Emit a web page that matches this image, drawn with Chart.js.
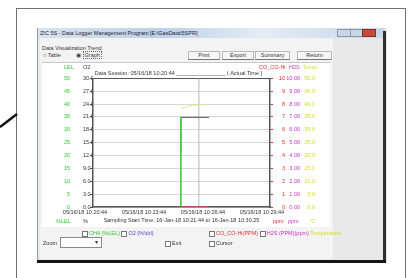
<!DOCTYPE html>
<html>
<head>
<meta charset="utf-8">
<script src="https://cdn.jsdelivr.net/npm/chart.js@4.4.0/dist/chart.umd.min.js"></script>
<style>
body { margin:0; width:411px; height:278px; overflow:hidden; background:#fff; position:relative;
  font-family:"Liberation Sans", Arial, sans-serif; font-size:5.5px; color:#333; }
.a { position:absolute; white-space:nowrap; }
.btn { height:7px; background:#f6f6f6; border:1px solid #b8b8b8; border-bottom-color:#777; text-align:center; line-height:7px; }
.cb { display:inline-block; width:4px; height:4px; border:1px solid #777; background:#fff; vertical-align:middle; margin-right:1px; }
</style>
</head>
<body>
<div class="a" style="left:16px;top:8px;width:388px;height:290px;border:1px solid #707070;"></div>
<svg class="a" style="left:0;top:0" width="20" height="140"><line x1="0" y1="127" x2="17" y2="114" stroke="#111" stroke-width="2.5"/></svg>

<!-- window -->
<div class="a" style="left:37px;top:28px;width:349px;height:235px;background:#e8e8e8;border-left:1px solid #8e9aa6;"></div>
<div class="a" style="left:38px;top:28px;width:347px;height:10px;background:linear-gradient(to right,#d9e4f0,#bcd0e6 35%,#e4ecf5 65%,#c6d6e8);"></div>
<div class="a" style="left:40px;top:30px;color:#223;">ZIC 5S - Data Logger Management Program [E:\GasData\5SPR]</div>
<div class="a" style="left:337px;top:29px;width:12px;height:6px;background:#c9d6e4;border:1px solid #8898aa;"></div>
<div class="a" style="left:350px;top:29px;width:11px;height:6px;background:#c9d6e4;border:1px solid #8898aa;"></div>
<div class="a" style="left:362px;top:29px;width:12px;height:6px;background:#c84a3a;border:1px solid #8a2a20;"></div>
<div class="a" style="left:40px;top:38px;width:293px;height:221px;background:#f3f3f3;"></div>
<div class="a" style="left:383px;top:31px;width:3px;height:232px;background:#2e2e2e;"></div>
<div class="a" style="left:37px;top:260px;width:349px;height:3px;background:#151515;"></div>

<div class="a" style="left:42px;top:45px;">Data Visualization Trend</div>
<div class="a" style="left:43px;top:52px;">○ Table</div>
<div class="a" style="left:76px;top:52px;">◉ <span style="border:1px dotted #666;padding:0 1px;">Graph</span></div>
<div class="a btn" style="left:188px;top:51px;width:30px;">Print</div>
<div class="a btn" style="left:222px;top:51px;width:30px;">Export</div>
<div class="a btn" style="left:255px;top:51px;width:33px;">Summary</div>
<div class="a btn" style="left:297px;top:51px;width:33px;">Return</div>

<!-- chart panel -->
<div class="a" style="left:42px;top:62px;width:288px;height:164px;background:#fff;border-top:1px solid #c8c8c8;"></div>
<canvas id="grafico" class="a" style="left:42px;top:62px;" width="288" height="162"></canvas>

<div class="a" style="left:64px;top:64px;color:#3c3;">LEL</div>
<div class="a" style="left:83px;top:64px;color:#334;">O2</div>
<div class="a" style="left:259px;top:64px;color:#e23030;">CO_CO-Hi</div>
<div class="a" style="left:289px;top:64px;color:#c535c5;">H2S</div>
<div class="a" style="left:303px;top:64px;color:#d8d820;">Temp</div>

<div class="a" style="left:56px;top:218px;color:#3c3;">%LEL</div>
<div class="a" style="left:83px;top:218px;color:#334;">%</div>
<div class="a" style="left:273px;top:218px;color:#e23030;">ppm</div>
<div class="a" style="left:288px;top:218px;color:#c535c5;">ppm</div>
<div class="a" style="left:309px;top:218px;color:#d8d820;">°C</div>

<!-- legend / controls -->
<div class="a" style="left:82px;top:230px;"><span class="cb"></span><span style="color:#3c3;">CH4 (%LEL)</span> <span class="cb"></span><span style="color:#4848c8;">O2 (%Vol)</span></div>
<div class="a" style="left:209px;top:230px;"><span class="cb"></span><span style="color:#e23030;">CO_CO-Hi(PPM)</span> <span class="cb"></span><span style="color:#c535c5;">H2S (PPM)(ppm)</span> <span style="color:#d8d820;">Temperature</span></div>
<div class="a" style="left:43px;top:240px;">Zoom</div>
<div class="a" style="left:60px;top:237px;width:40px;height:9px;background:#fff;border:1px solid #888;"></div>
<div class="a" style="left:95px;top:239px;">▾</div>
<div class="a" style="left:165px;top:240px;"><span class="cb"></span>Exit</div>
<div class="a" style="left:209px;top:240px;"><span class="cb"></span>Cursor</div>

<script>
// dados do gráfico
var rotulosTempo = ['05/16/18 10:20:44', '05/16/18 10:23:44', '05/16/18 10:26:44', '05/16/18 10:29:44'];
var segundosTicks = [0, 180, 360, 540];

var ticksLEL = [0, 5, 10, 15, 20, 25, 30, 35, 40, 45, 50];
var ticksO2 = [0, 3, 6, 9, 12, 15, 18, 21, 24, 27, 30];
var ticksCO = [0, 1, 2, 3, 4, 5, 6, 7, 8, 9, 10];
var ticksH2S = [0, 1, 2, 3, 4, 5, 6, 7, 8, 9, 10];
var ticksTemp = [0, 5, 10, 15, 20, 25, 30, 35, 40, 45, 50];

var ch4X = [268, 268, 354];
var ch4Y = [35, 0, 0];
var o2X = [268, 268, 354];
var o2Y = [12.5, 20.9, 20.9];
var coX = [268, 354];
var coY = [0, 0];
var h2sX = [268, 354];
var h2sY = [0, 0];
var tempX = [268, 285, 305, 342];
var tempY = [38.2, 39.0, 39.6, 39.7];
var cursorSeg = 323;

var tituloGrafico = 'Data Session: 05/16/18 10:20:44 ________________ ( Actual Time )';
var tituloEixoX = 'Sampling Start Time: 16-Jan-18 10:21:44 to 16-Jan-18 10:30:25';

document.addEventListener('DOMContentLoaded', function () {
    Chart.defaults.font.family = '"Liberation Sans", Arial, sans-serif';
    Chart.defaults.font.size = 5.5;

    function pontos(xs, ys) {
        return xs.map(function (x, i) { return { x: x, y: ys[i] }; });
    }
    function fixarTicks(lista) {
        return function (s) { s.ticks = lista.map(function (v) { return { value: v }; }); };
    }
    function largura(w) {
        return function (s) { s.width = w; };
    }

    var ctx = document.getElementById('grafico').getContext('2d');
    new Chart(ctx, {
        type: 'line',
        data: {
            datasets: [
                { label: 'Cursor', data: [{ x: cursorSeg, y: 0 }, { x: cursorSeg, y: 30 }], yAxisID: 'o2', borderColor: '#b8b8b8', borderWidth: 1, pointRadius: 0, order: 10 },
                { label: 'CO_CO-Hi(PPM)', data: pontos(coX, coY), yAxisID: 'co', borderColor: '#e23030', borderWidth: 1, pointRadius: 0 },
                { label: 'H2S (PPM)', data: pontos(h2sX, h2sY), yAxisID: 'h2s', borderColor: '#c535c5', borderWidth: 1, pointRadius: 0 },
                { label: 'Temperature', data: pontos(tempX, tempY), yAxisID: 'temp', borderColor: '#e4e48a', borderWidth: 1, pointRadius: 0 },
                { label: 'CH4 (%LEL)', data: pontos(ch4X, ch4Y), yAxisID: 'lel', borderColor: '#44d044', borderWidth: 1, pointRadius: 0 },
                { label: 'O2 (%Vol)', data: pontos(o2X, o2Y), yAxisID: 'o2', borderColor: '#4a5068', borderWidth: 1, pointRadius: 0 }
            ]
        },
        options: {
            responsive: false,
            animation: false,
            layout: { padding: { left: 0, right: 15, top: 0, bottom: 0 } },
            plugins: {
                legend: { display: false },
                tooltip: { enabled: false },
                title: { display: true, text: tituloGrafico, color: '#333', padding: { top: 2, bottom: 1.5 }, font: { size: 5.5, weight: 'normal' } }
            },
            scales: {
                x: {
                    type: 'linear', min: 0, max: 540,
                    grid: { display: false, drawTicks: false },
                    border: { display: true, color: '#555', width: 1.5 },
                    afterBuildTicks: fixarTicks(segundosTicks),
                    afterFit: function (s) { s.height = 17; },
                    ticks: {
                        autoSkip: false, maxRotation: 0, padding: 2, labelOffset: -8, color: '#333',
                        callback: function (v) { return rotulosTempo[segundosTicks.indexOf(v)]; }
                    },
                    title: { display: true, text: tituloEixoX, color: '#333', padding: { top: 2, bottom: 0 }, font: { size: 5.5 } }
                },
                o2: {
                    position: 'left', weight: 0, min: 0, max: 30,
                    afterBuildTicks: fixarTicks(ticksO2),
                    afterFit: largura(10),
                    grid: {
                        color: function (c) { return c.tick && c.tick.value === 30 ? '#555' : '#d6d6d6'; },
                        tickColor: '#444', tickLength: 3
                    },
                    border: { display: true, color: '#555', width: 1.5 },
                    ticks: { crossAlign: 'far', padding: 0, color: '#334', callback: function (v) { return v.toFixed(1); } }
                },
                lel: {
                    position: 'left', weight: 1, min: 0, max: 50,
                    afterBuildTicks: fixarTicks(ticksLEL),
                    afterFit: largura(41),
                    grid: { display: false, drawTicks: false },
                    border: { display: false },
                    ticks: { crossAlign: 'near', padding: 13, color: '#3c3' }
                },
                co: {
                    position: 'right', weight: 0, min: 0, max: 10,
                    afterBuildTicks: fixarTicks(ticksCO),
                    afterFit: largura(15),
                    grid: { drawOnChartArea: false, tickColor: '#e23030', tickLength: 3 },
                    border: { display: true, color: '#555', width: 1.5 },
                    ticks: { crossAlign: 'far', padding: 0, color: '#e23030' }
                },
                h2s: {
                    position: 'right', weight: 1, min: 0, max: 10,
                    afterBuildTicks: fixarTicks(ticksH2S),
                    afterFit: largura(15),
                    grid: { display: false, drawTicks: false },
                    border: { display: false },
                    ticks: { crossAlign: 'far', padding: 0, color: '#c535c5', callback: function (v) { return v.toFixed(2); } }
                },
                temp: {
                    position: 'right', weight: 2, min: 0, max: 50,
                    afterBuildTicks: fixarTicks(ticksTemp),
                    afterFit: largura(15),
                    grid: { display: false, drawTicks: false },
                    border: { display: false },
                    ticks: { crossAlign: 'far', padding: 0, color: '#d8d820', callback: function (v) { return v.toFixed(1); } }
                }
            }
        }
    });
});
</script>
</body>
</html>
